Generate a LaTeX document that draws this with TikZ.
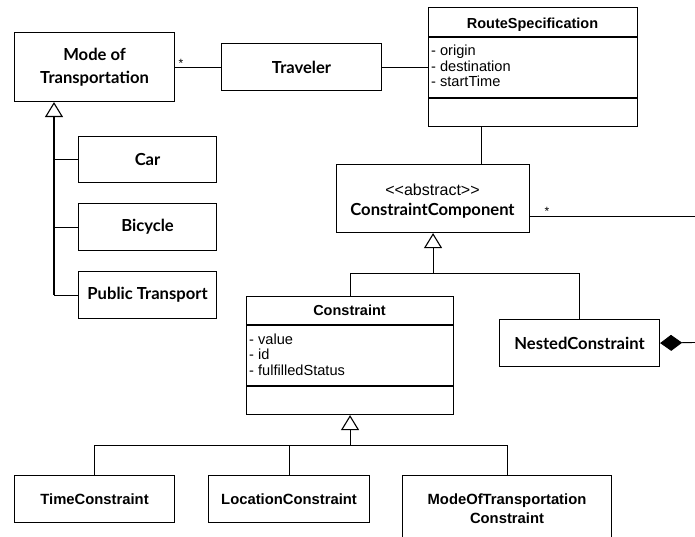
\documentclass[tikz,border=0pt]{standalone}
\usepackage{fontspec}
\setmainfont{Liberation Sans}
\newfontfamily\classfont{Lato}
\usetikzlibrary{arrows.meta}
\begin{document}
\begin{tikzpicture}[x=1pt,y=-1pt,
  box/.style={draw, line width=1.1pt, anchor=north west, inner sep=0pt},
  cname/.style={font=\classfont\bfseries\fontsize{16.6}{23}\selectfont, align=center},
  hname/.style={font=\bfseries\fontsize{14.5}{16}\selectfont, anchor=base},
  stereo/.style={font=\fontsize{16}{18}\selectfont},
  attr/.style={font=\fontsize{14.6}{15.5}\selectfont, anchor=base west, inner sep=0pt},
  lname/.style={font=\bfseries\fontsize{14.8}{19}\selectfont, align=center},
  conn/.style={line width=0.9pt},
  trunk/.style={line width=1.4pt},
  inherit/.style={conn, -{Triangle[open, length=15pt, width=18pt, line width=1.1pt, fill=white]}},
  compose/.style={conn, -{Diamond[length=22pt, width=16pt]}},
  mult/.style={font=\fontsize{12}{12}\selectfont, inner sep=0pt}
]
\useasboundingbox[fill=white] (0,0) rectangle (695,537);

% transport modes
\node[box, cname, minimum width=160pt, minimum height=69pt] (mode) at (14,32) {Mode of\\Transportation};
\node[box, cname, minimum width=160pt, minimum height=47pt] (traveler) at (221,43) {Traveler};
\node[box, cname, minimum width=138pt, minimum height=46pt] (car) at (78,136) {Car};
\node[box, cname, minimum width=138pt, minimum height=47pt] (bicycle) at (78,203) {Bicycle};
\node[box, cname, minimum width=138pt, minimum height=47pt] (public) at (78,271) {Public Transport};

% route specification class
\node[box, minimum width=209pt, minimum height=119pt] (route) at (428,7) {};
\node[hname] (routename) at (532.5,29) {RouteSpecification};
\draw[line width=1.1pt] (route.north west) ++(0,30) -- ++(209,0);
\draw[line width=1.1pt] (route.north west) ++(0,91) -- ++(209,0);
\node[attr] (origin) at (431,56) {- origin};
\node[attr] (destination) at (431,71.5) {- destination};
\node[attr] (starttime) at (431,87) {- startTime};

% abstract constraint component
\node[box, minimum width=193pt, minimum height=68pt] (cc) at (336,164) {};
\node[stereo] (ccstereo) at (432.5,190) {<{}<abstract>{}>};
\node[cname] (ccname) at (432.5,211) {ConstraintComponent};

% constraint class
\node[box, minimum width=207pt, minimum height=118pt] (constraint) at (246,296) {};
\node[hname] (constraintname) at (349.5,315) {Constraint};
\draw[line width=1.1pt] (constraint.north west) ++(0,29) -- ++(207,0);
\draw[line width=1.1pt] (constraint.north west) ++(0,90) -- ++(207,0);
\node[attr] (value) at (249,344) {- value};
\node[attr] (id) at (249,359.5) {- id};
\node[attr] (status) at (249,375) {- fulfilledStatus};

\node[box, cname, minimum width=160pt, minimum height=47pt] (nested) at (499,319) {NestedConstraint};

% concrete constraints
\node[box, lname, minimum width=160pt, minimum height=47pt] (time) at (14,475) {TimeConstraint};
\node[box, lname, minimum width=161pt, minimum height=47pt] (location) at (208,475) {LocationConstraint};
\node[box, minimum width=209pt, minimum height=80pt] (mot) at (402,475) {};
\node[lname] (motname) at (507,508.5) {ModeOfTransportation\\Constraint};

% associations
\draw[conn] (mode.east) -- (traveler.west);
\node[mult] (modestar) at (181,63) {*};
\draw[conn] (traveler.east) -- (traveler.east -| route.west);
\draw[conn] (route.south west) ++(53,0) coordinate (rs) -- (rs |- cc.north);
\coordinate (offr1) at (695,216);
\draw[conn] (offr1 -| cc.east) -- (offr1);
\node[mult] (ccstar) at (547,211) {*};
\coordinate (offr2) at (695,342.5);
\draw[compose] (offr2) -- (nested.east);

% generalization: transport modes
\path (mode.south west) ++(40,0) coordinate (m1);
\draw[trunk] (m1 |- public.west) -- (m1 |- bicycle.west);
\draw[conn] (m1 |- car.west) -- (car.west);
\draw[conn] (m1 |- bicycle.west) -- (bicycle.west);
\draw[conn] (m1 |- public.west) -- (public.west);
\draw[inherit, line width=1.4pt] (m1 |- bicycle.west) -- (m1);

% generalization: constraint component
\path (cc.south) ++(0,40) coordinate (j1);
\draw[conn] (constraint.north) |- (j1) -| (nested.north);
\draw[inherit] (j1) -- (cc.south);

% generalization: constraint
\path (constraint.south) ++(0,30) coordinate (j2);
\draw[conn] (time.north) |- (mot.north |- j2) -- (mot.north);
\draw[conn] (location.north) -- (location.north |- j2);
\draw[inherit] (j2) -- (constraint.south);
\end{tikzpicture}
\end{document}
